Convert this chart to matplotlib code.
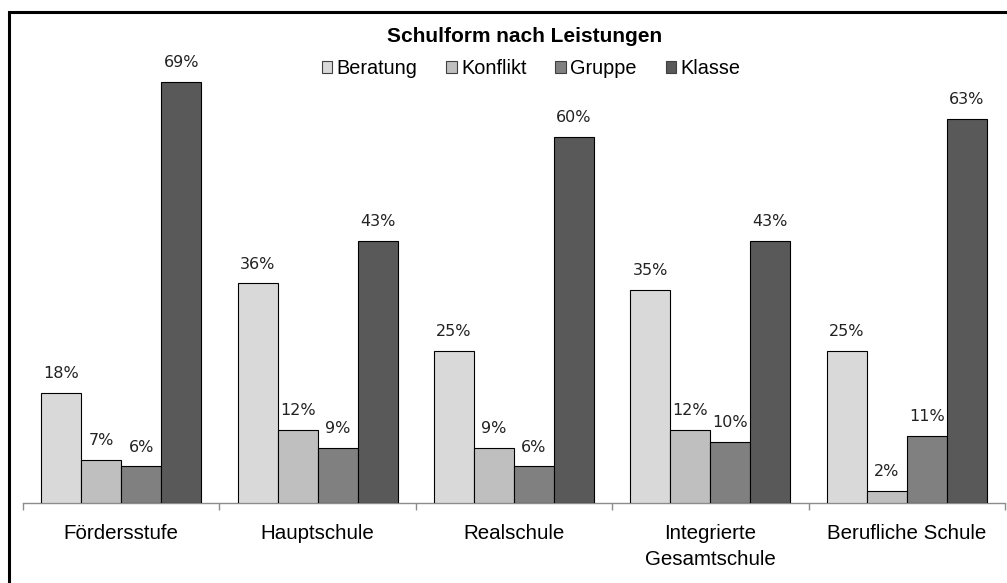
import matplotlib
matplotlib.use("Agg")
import matplotlib.pyplot as plt
from matplotlib.patches import Rectangle, Patch
import numpy as np

categories = ["Fördersstufe", "Hauptschule", "Realschule", "Integrierte\nGesamtschule", "Berufliche Schule"]
series_names = ["Beratung", "Konflikt", "Gruppe", "Klasse"]
beratung = [18, 36, 25, 35, 25]
konflikt = [7, 12, 9, 12, 2]
gruppe = [6, 9, 6, 10, 11]
klasse = [69, 43, 60, 43, 63]
colors = ["#d9d9d9", "#bfbfbf", "#808080", "#595959"]
title = "Schulform nach Leistungen"

W, H = 1007, 583
fig = plt.figure(figsize=(W / 100, H / 100), dpi=100)
fig.patch.set_facecolor("white")

# chart border (cropped at right/bottom)
fig.add_artist(Rectangle((9 / W, -0.05), 1.2, (583 - 12) / H + 0.05, transform=fig.transFigure,
                         fill=False, edgecolor="black", linewidth=2.2))

ymax = 72
ax_left, ax_right = 23 / W, 1005 / W
ax_bottom = (H - 503) / H
ax_top_px = 503 - ymax * 6.1
ax = fig.add_axes([ax_left, ax_bottom, ax_right - ax_left, (503 - ax_top_px) / H])

data = [beratung, konflikt, gruppe, klasse]
x = np.arange(len(categories))
bw = 40 / 196.5
for j, (vals, c, name) in enumerate(zip(data, colors, series_names)):
    pos = x + (j - 1.5) * bw
    ax.bar(pos, vals, width=bw, color=c, edgecolor="black", linewidth=0.8, label=name, zorder=3)
    for px, v in zip(pos, vals):
        ax.annotate(f"{v}%", (px, v), xytext=(0, 8.5), textcoords="offset points",
                    ha="center", va="bottom", fontsize=11.5, family="DejaVu Sans", color="#222222")

ax.set_xlim(-0.5, len(categories) - 0.5)
ax.set_ylim(0, ymax)
ax.set_yticks([])
for s in ["top", "right", "left"]:
    ax.spines[s].set_visible(False)
ax.spines["bottom"].set_color("#8c8c8c")
ax.spines["bottom"].set_linewidth(1.0)
ax.set_xticks(np.arange(-0.5, len(categories)), labels=[""] * (len(categories) + 1))
ax.tick_params(axis="x", which="major", length=5, color="#8c8c8c", width=1.0)
ax.set_xticks(x, labels=categories, minor=True)
ax.tick_params(axis="x", which="minor", length=0, pad=15, labelsize=14.8)
for lbl in ax.get_xticklabels(minor=True):
    lbl.set_family("Liberation Sans")
    lbl.set_va("top")
    lbl.set_ha("center")
    lbl.set_multialignment("center")
    lbl.set_linespacing(1.45)

fig.text(525 / W, 1 - 37 / H, title, ha="center", va="center", fontsize=15,
         fontweight="bold", family="Liberation Sans")

handles = [Patch(facecolor=c, edgecolor="#404040", linewidth=0.8) for c in colors]
fig.legend(handles, series_names, loc="center", bbox_to_anchor=(531 / W, 1 - 69 / H), ncol=4,
           frameon=False, prop={"family": "Liberation Sans", "size": 14.3},
           handlelength=0.55, handleheight=0.55, handletextpad=0.2, columnspacing=1.45,
           borderaxespad=0)

fig.savefig("out.png", dpi=100)
